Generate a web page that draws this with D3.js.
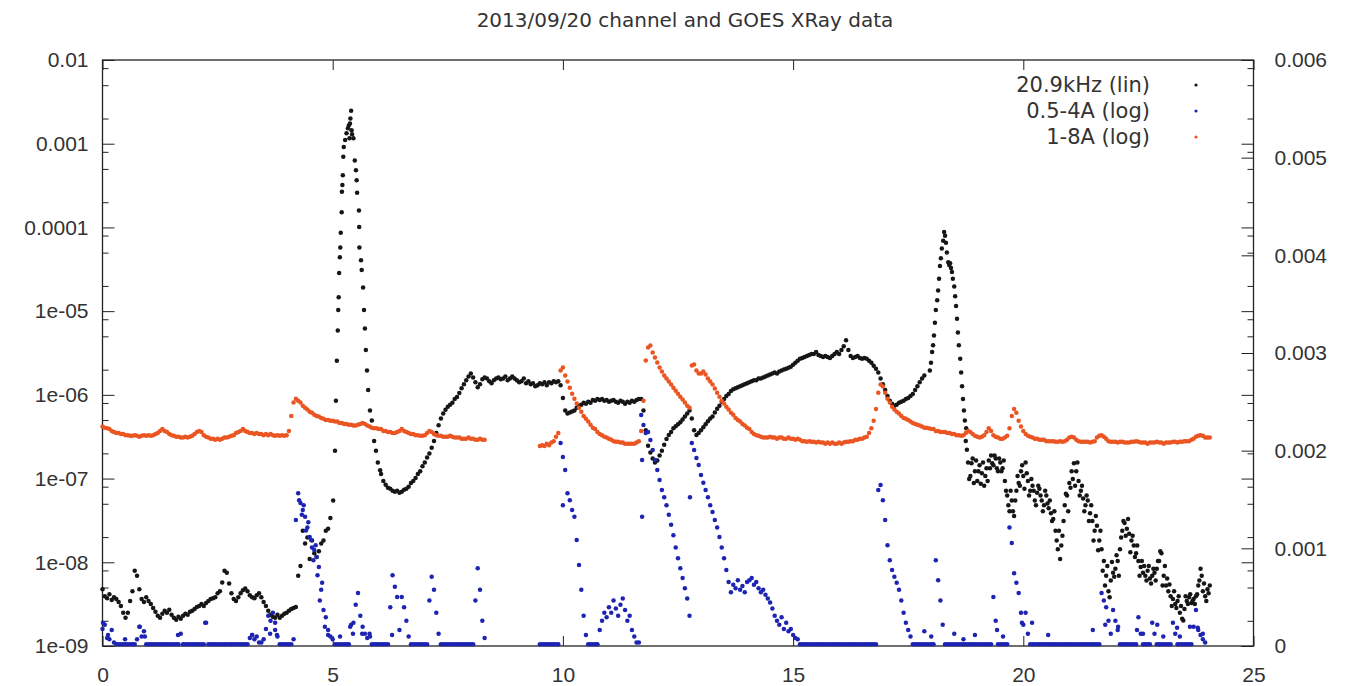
<!DOCTYPE html>
<html>
<head>
<meta charset="utf-8">
<title>2013/09/20 channel and GOES XRay data</title>
<script src="https://cdn.jsdelivr.net/npm/d3@7"></script>
<style>
  body { margin: 0; background: #fff; }
  svg { display: block; font-family: "DejaVu Sans", sans-serif; }
</style>
</head>
<body>
<div id="chart"></div>
<script>
var W = 1353, H = 686
var L = 102.5, R = 1253.5, T = 60, B = 646

// hours between samples in the regular runs below
var STEP = 0.05

// 20.9 kHz channel (right axis, linear), values in units of 1e-3
var chanA_start = 0
var chanA = [0.58,0.51,0.49,0.53,0.47,0.50,0.48,0.45,0.41,0.34,
  0.29,0.34,0.46,0.56,0.77,0.72,0.58,0.48,0.45,0.50,
  0.46,0.43,0.39,0.35,0.31,0.29,0.33,0.36,0.34,0.37,
  0.32,0.29,0.27,0.30,0.28,0.31,0.33,0.32,0.35,0.36,
  0.38,0.40,0.41,0.43,0.41,0.44,0.46,0.48,0.49,0.50,
  0.54,0.56,0.65,0.77,0.75,0.64,0.54,0.48,0.46,0.50,
  0.54,0.57,0.59,0.56,0.52,0.50,0.49,0.52,0.54,0.50,
  0.45,0.41,0.36,0.32,0.30,0.29,0.32,0.29,0.31,0.33,
  0.34,0.36,0.38,0.39,0.40,0.72,0.82,1.18,1.05,1.11,
  0.89,1.08,0.95,0.91,0.97,1.05,1.08,1.18,1.20,1.31]
// flare near 5h, [hour, value]
var chanFlare1 = [[5.01,1.49],[5.05,2.00],[5.07,2.51],[5.09,2.92],[5.11,3.23],[5.12,3.44],[5.13,3.57],
  [5.14,3.82],[5.155,3.98],[5.165,4.08],[5.175,4.23],[5.195,4.44],[5.20,4.65],[5.21,4.72],[5.22,4.82],
  [5.23,5.01],[5.24,5.11],[5.27,5.18],[5.30,5.25],[5.33,5.30],[5.35,5.33],[5.365,5.20],[5.375,5.35],
  [5.385,5.40],[5.40,5.48],[5.41,5.28],[5.42,5.24],[5.45,5.20],[5.48,4.97],[5.505,4.87],[5.52,4.77],
  [5.53,4.64],[5.57,4.46],[5.575,4.29],[5.58,4.08],[5.615,3.95],[5.63,3.85],[5.66,3.67],[5.68,3.44],
  [5.70,3.25],[5.72,3.03],[5.745,2.82],[5.77,2.62],[5.81,2.41],[5.85,2.31],[5.90,2.10],[5.94,2.00],
  [5.98,1.88],[6.03,1.80]]
var chanB_start = 6.05
var chanB = [1.76,1.69,1.65,1.62,1.61,1.59,1.58,1.59,1.57,1.58,
  1.60,1.61,1.63,1.67,1.69,1.72,1.76,1.79,1.84,1.88,
  1.93,1.97,2.03,2.10,2.18,2.26,2.33,2.38,2.42,2.45,
  2.47,2.49,2.53,2.55,2.59,2.64,2.68,2.72,2.76,2.79,
  2.75,2.70,2.65,2.68,2.73,2.75,2.74,2.71,2.69,2.72,
  2.74,2.75,2.73,2.74,2.76,2.72,2.74,2.76,2.74,2.72,
  2.70,2.71,2.74,2.69,2.71,2.68,2.69,2.66,2.67,2.69,
  2.68,2.70,2.67,2.70,2.69,2.71,2.70,2.71,2.67,2.54,
  2.41,2.38,2.39,2.40,2.41,2.44,2.46,2.47,2.49,2.48,
  2.50,2.49,2.52,2.51,2.53,2.52,2.53,2.51,2.52,2.50,
  2.51,2.52,2.50,2.49,2.51,2.50,2.48,2.50,2.49,2.51,
  2.50,2.52,2.53,2.53,2.41,2.21,2.05,1.98,1.92,1.88,
  1.90,1.95,2.00,2.06,2.12,2.16,2.19,2.23,2.25,2.27,
  2.29,2.32,2.35,2.38,2.41,2.33,2.21,2.16,2.18,2.21,
  2.24,2.27,2.30,2.33,2.35,2.39,2.43,2.46,2.50,2.53,
  2.56,2.58,2.61,2.63,2.64,2.65,2.66,2.67,2.68,2.69,
  2.70,2.71,2.72,2.72,2.74,2.74,2.75,2.76,2.77,2.78,
  2.79,2.80,2.79,2.81,2.82,2.83,2.84,2.85,2.86,2.88,
  2.90,2.92,2.94,2.95,2.96,2.97,2.98,2.99,2.99,3.01,
  2.98,2.97,2.96,2.97,2.96,2.95,2.97,2.99,3.01,2.99,
  3.03,3.07,3.13,3.03,2.97,2.95,2.96,2.97,2.95,2.94,
  2.95,2.94,2.92,2.90,2.87,2.84,2.80,2.74,2.68,2.62,
  2.56,2.51,2.48,2.46,2.47,2.49,2.50,2.51,2.53,2.54,
  2.56,2.58,2.62,2.66,2.70,2.74,2.77]
// flare near 18.3h, [hour, value]
var chanFlare2 = [[17.97,2.82],[17.995,2.90],[18.02,3.01],[18.04,3.08],[18.06,3.18],[18.08,3.31],
  [18.10,3.44],[18.13,3.54],[18.15,3.64],[18.17,3.76],[18.19,3.89],[18.21,3.97],[18.23,4.07],
  [18.26,4.15],[18.28,4.24],[18.30,4.20],[18.32,4.13],[18.34,4.03],[18.37,3.93],[18.39,3.90],
  [18.41,3.92],[18.43,3.87],[18.45,3.83],[18.47,3.76],[18.50,3.68],[18.52,3.58],[18.54,3.48],
  [18.56,3.35],[18.58,3.21],[18.60,3.08],[18.63,2.94],[18.65,2.80],[18.67,2.66],[18.69,2.53],
  [18.71,2.41],[18.73,2.31],[18.76,2.23]]
var chanC_start = 18.75
var chanC = [2.10,1.88,1.74,1.92,1.79,1.69,1.85,1.77,1.64,1.82,
  1.90,1.95,1.85,1.92,1.79,1.88,1.82,1.69,1.54,1.38,
  1.49,1.33,1.59,1.67,1.79,1.74,1.88,1.69,1.59,1.64,
  1.49,1.57,1.61,1.49,1.44,1.54,1.41,1.36,1.30,1.18,
  0.99,0.89,1.13,1.44,1.54,1.67,1.79,1.87,1.79,1.69,
  1.59,1.51,1.44,1.49,1.36,1.28,1.18,1.23,1.08,0.99,
  0.87,0.72,0.56,0.67,0.75,0.79,0.87,0.99,1.18,1.26,
  1.20,1.15,1.08,1.03,0.95,0.87,0.81,0.75,0.72,0.77,
  0.69,0.72,0.75,0.79,0.87,0.95,0.72,0.62,0.56,0.51,
  0.48,0.43,0.46,0.34,0.28,0.38,0.46,0.50,0.44,0.48,
  0.51,0.62,0.79,0.56,0.51,0.58,0.62]
// other edge of the scattered cloud after 18.75h
var chanC2_start = 18.775
var chanC2 = [2.01,1.71,1.87,1.67,1.90,1.79,1.66,1.88,1.74,1.69,
  1.82,1.87,1.95,1.82,1.92,1.79,1.90,1.59,1.44,1.59,
  1.38,1.49,1.74,1.64,1.85,1.61,1.77,1.54,1.71,1.59,
  1.44,1.64,1.54,1.38,1.59,1.46,1.49,1.28,1.38,1.08,
  1.18,1.03,1.28,1.56,1.38,1.62,1.71,1.64,1.88,1.54,
  1.64,1.38,1.54,1.28,1.44,1.08,1.33,0.98,1.18,0.77,
  0.62,0.82,0.50,0.86,0.71,0.93,0.72,1.11,1.28,1.13,
  1.30,0.96,1.13,0.91,1.03,0.72,0.87,0.82,0.67,0.82,
  0.64,0.79,0.67,0.87,0.97,0.62,0.82,0.69,0.63,0.41,
  0.56,0.39,0.51,0.41,0.26,0.51,0.43,0.53,0.46,0.43,
  0.53,0.67,0.72,0.64,0.46,0.54]

// GOES 1-8A (left axis, log), units of 1e-7
var longA_start = 0
var longA = [4.2,4.05,4.0,3.9,3.7,3.6,3.5,3.5,3.4,3.4,
  3.3,3.3,3.25,3.25,3.3,3.25,3.15,3.25,3.3,3.25,
  3.3,3.25,3.3,3.4,3.5,3.7,3.9,3.7,3.6,3.4,
  3.3,3.25,3.15,3.15,3.1,3.1,3.15,3.1,3.15,3.25,
  3.4,3.6,3.7,3.6,3.3,3.15,3.1,3.0,3.0,2.9,
  3.0,2.9,3.0,3.1,3.1,3.15,3.25,3.3,3.5,3.6,
  3.7,3.9,3.7,3.6,3.5,3.5,3.4,3.5,3.4,3.4,
  3.3,3.4,3.3,3.4,3.3,3.25,3.3,3.25,3.3,3.25,
  3.3,3.7,5.6,8.1,9.0,8.5,8.1,7.4,7.0,6.7,
  6.3,6.1,5.8,5.6,5.5,5.3,5.2,5.0,5.0,4.9,
  4.9,4.8,4.8,4.6,4.6,4.5,4.5,4.4,4.4,4.3,
  4.3,4.4,4.5,4.6,4.5,4.3,4.2,4.05,4.0,4.0,
  3.9,3.9,3.7,3.7,3.6,3.6,3.5,3.5,3.6,3.7,
  3.9,3.7,3.6,3.5,3.4,3.4,3.3,3.3,3.25,3.25,
  3.3,3.5,3.7,3.6,3.4,3.3,3.25,3.25,3.15,3.15,
  3.15,3.25,3.15,3.1,3.1,3.1,3.0,3.0,3.0,3.1,
  3.0,3.0,2.9,2.9,3.0,2.9,2.9]
var longB_start = 9.5
var longB = [2.45,2.5,2.45,2.6,2.5,2.7,2.8,3.15,3.5,19.5,
  21.2,17.0,14.4,12.2,10.3,9.0,7.9,7.0,6.3,5.6,
  5.2,4.8,4.4,4.05,3.9,3.6,3.4,3.3,3.15,3.1,
  3.0,2.9,2.8,2.75,2.75,2.7,2.7,2.6,2.6,2.6,
  2.6,2.6,2.7,2.8,3.7,8.5,25.7,36.8,38.8,32.1,
  28.0,24.3,21.2,19.0,17.0,15.7,14.4,13.3,12.2,11.2,
  10.3,9.5,8.8,8.1,7.4,7.0,22.4,23.0,19.5,18.0,
  18.0,19.0,17.5,15.7,14.4,13.3,11.9,10.6,9.5,8.5,
  7.9,7.2,6.7,6.1,5.8,5.3,5.0,4.8,4.5,4.3,
  4.05,3.9,3.6,3.4,3.3,3.25,3.15,3.1,3.1,3.1,
  3.15,3.1,3.1,3.0,3.1,3.1,3.0,3.0,3.1,3.0,
  3.0,2.9,3.0,2.9,2.8,2.8,2.75,2.8,2.75,2.75,
  2.7,2.75,2.7,2.7,2.6,2.7,2.6,2.7,2.6,2.6,
  2.7,2.6,2.7,2.75,2.75,2.8,2.8,2.9,2.9,3.0,
  3.0,3.1,3.15,3.5,4.0,4.9,6.8,10.6,13.3,12.6,
  10.6,9.0,8.1,7.2,6.7,6.3,6.0,5.6,5.3,5.2,
  5.0,4.8,4.6,4.5,4.4,4.3,4.2,4.05,4.05,4.0,
  3.9,3.9,3.7,3.7,3.6,3.6,3.6,3.5,3.5,3.4,
  3.4,3.3,3.3,3.25,3.3,3.5,3.7,3.6,3.4,3.25,
  3.15,3.1,3.15,3.3,3.6,4.0,3.7,3.3,3.15,3.1,
  3.0,3.0,3.1,3.25,4.0,5.6,6.8,6.1,4.9,4.2,
  3.7,3.4,3.25,3.15,3.1,3.0,3.0,2.9,2.9,2.9,
  2.8,2.8,2.8,2.8,2.75,2.75,2.8,2.75,2.8,2.9,
  3.1,3.15,3.1,2.9,2.8,2.75,2.75,2.75,2.75,2.7,
  2.75,2.8,3.1,3.25,3.3,3.15,3.0,2.8,2.75,2.75,
  2.75,2.7,2.75,2.75,2.7,2.7,2.7,2.75,2.75,2.8,
  2.75,2.7,2.7,2.7,2.6,2.7,2.7,2.7,2.75,2.7,
  2.7,2.6,2.7,2.7,2.7,2.75,2.75,2.7,2.75,2.75,
  2.8,2.8,2.8,2.9,3.0,3.15,3.25,3.3,3.25,3.1,
  3.1,3.1]

// GOES 0.5-4A (left axis, log), units of 1e-9
var shortA_start = 0
var shortA = [1.6,1.8,1.25,1.2,1.55,1.1,
  1.05,1.05,1.05,1.05,1.05,1.05,1.05,1.05,1.05,
  1.2,1.7,1.3,1.5,
  1.05,1.05,1.05,1.05,1.05,1.05,1.05,1.05,1.05,1.05,1.05,1.05,1.05,1.05,1.05,
  1.4,
  1.05,1.05,1.05,1.05,1.05,1.05,1.05,1.05,1.05,1.05,
  1.9,
  1.05,1.05,1.05,1.05,1.05,1.05,1.05,1.05,1.05,1.05,1.05,1.05,1.05,1.05,1.05,1.05,1.05,1.05,
  1.25,1.35,1.2,1.3,1.1,1.1,1.2,1.6,2.3,2.0,2.5,1.55,1.3,
  1.05,1.05,1.05,1.05,1.05,1.05,
  1.2,32,67,51,42,35,26,20,15,14,11.6,8.8,4.7,2.7,2.2,1.55,1.3,1.2,
  1.05,1.05,1.05,1.05,1.05,1.05,1.05,
  1.8,1.9,3.1,4.3,2.3,1.7,1.4,1.25,1.4,
  1.05,1.05,1.05,1.05,1.05,1.05,1.05,1.05,
  2.9,7.0,5.1,3.85,1.55,3.85,2.9,2.0,1.3,
  1.05,1.05,1.05,1.05,1.05,1.05,1.05,1.05,
  3.5,6.7,4.7,2.5,1.4,
  1.05,1.05,1.05,1.05,1.05,1.05,1.05,1.05,1.05,1.05,1.05,1.05,1.05,1.05,1.05,
  3.5,8.5,4.7,2.0,1.25]
var shortB_start = 9.5
var shortB = [1.05,1.05,1.05,1.05,1.05,1.05,1.05,1.05,1.05,
  266,181,127,67,55,42,35,18.5,9.3,4.7,2.3,1.35,
  1.05,1.05,1.05,1.05,1.05,
  1.55,2.0,2.5,2.2,2.9,2.5,3.5,2.8,2.3,3.1,3.7,2.7,2.0,2.3,1.55,1.3,1.1,1.1,
  575,437,351,360,289,219,167,127,96,73,60,48,37,28,21,15,11.2,8.5,6.5,4.9,3.7,2.3,
  266,219,176,145,110,89,73,60,48,40,
  32,26,20,15,11.2,8.1,5.8,4.4,5.4,4.9,
  6.1,4.7,5.2,4.4,5.8,6.1,6.5,5.4,5.8,4.9,
  4.4,4.7,4.1,3.7,3.3,2.8,2.3,2.0,1.8,2.2,
  1.6,1.9,1.5,1.6,1.35,1.25,1.2,
  1.05,1.05,1.05,1.05,1.05,1.05,1.05,1.05,1.05,1.05,
  1.05,1.05,1.05,1.05,1.05,1.05,1.05,1.05,1.05,1.05,
  1.05,1.05,1.05,1.05,1.05,1.05,1.05,1.05,1.05,1.05,
  1.05,1.05,1.05,1.05,
  73,84,55,32,16,10.6,8.1,6.7,5.7,4.7,3.5,2.5,1.9,1.55,1.3,
  1.05,1.05,1.05,1.05,1.05,1.05,1.05,1.05,1.05,1.05,
  10.6,6.1,3.5,1.8,
  1.05,1.05,1.05,1.05,1.05,1.05,1.05,1.05,1.05,1.05,
  1.05,1.05,1.05,1.05,1.05,1.05,1.05,1.05,1.05,1.05,1.05,
  3.85,2.0,
  1.05,1.05,1.05,1.05,1.05,
  26,17,7.4,5.7,4.3,2.5,1.8,2.5,1.4,
  1.05,1.05,1.05,1.05,1.05,1.05,1.05,1.05,1.05,1.05,
  1.05,1.05,1.05,1.05,1.05,1.05,1.05,1.05,1.05,1.05,
  1.05,1.05,1.05,1.05,1.05,1.05,1.05,1.05,1.05,1.05,1.05,
  4.3,3.5,2.9,2.0,1.4,2.7,2.0,1.55,
  1.05,1.05,1.05,1.05,1.05,1.05,1.05,1.05,
  2.2,1.4,
  1.05,1.05,1.05,1.05,
  1.9,1.4,
  1.05,1.05,1.05,1.05,1.05,1.05,1.05,
  1.9,1.4,
  1.05,1.05,1.05,1.05,1.05,1.05,1.05,
  1.7,2.7,1.55,1.35,1.2,1.1]
// scattered single readings, [hour, value]
var shortExtra = [[0.01,1.9],[0.12,1.35],[0.49,1.2],[0.81,1.7],[0.92,1.3],[1.64,1.35],[2.23,1.9],
  [3.25,1.35],[3.64,1.4],[3.75,1.9],[3.79,1.35],[4.27,55],[4.33,37],[4.37,48],[4.42,24],[4.47,30],
  [4.53,18.5],[4.58,10.6],[4.63,16],[4.67,7.0],[4.72,3.5],[4.77,5.7],[4.83,1.7],[4.90,1.35],
  [5.16,1.3],[5.38,1.7],[5.44,1.4],[5.64,1.4],[5.81,1.3],[6.29,1.35],[10.0,48],[11.72,167],
  [11.72,35],[12.76,60],[17.85,1.5],[18.0,1.3],[18.5,1.4],[18.7,1.2],[18.95,1.35],[19.43,1.55],
  [19.56,1.3],[19.97,1.9],[20.19,1.9],[20.54,1.35],[21.51,1.55],[21.78,1.8],[22.06,1.7],
  [22.47,1.55],[22.60,1.4],[22.91,1.8],[23.04,1.3],[23.34,1.65],[23.40,1.3],[23.62,1.7],
  [23.79,1.65],[23.90,1.4]]

var xTicks = [0, 5, 10, 15, 20, 25]
var yLeftTicks = [1e-9, 1e-8, 1e-7, 1e-6, 1e-5, 1e-4, 1e-3, 1e-2]
var yLeftLabels = ['1e-09', '1e-08', '1e-07', '1e-06', '1e-05', '0.0001', '0.001', '0.01']
var yRightTicks = [0, 0.001, 0.002, 0.003, 0.004, 0.005, 0.006]
var yRightLabels = ['0', '0.001', '0.002', '0.003', '0.004', '0.005', '0.006']
var legendLabels = ['20.9kHz (lin)', '0.5-4A (log)', '1-8A (log)']
var colors = ['#161616', '#1e24b2', '#ea5522']

var x = d3.scaleLinear().domain([0, 25]).range([L, R])
var yL = d3.scaleLog().domain([1e-9, 1e-2]).range([B, T])
var yR = d3.scaleLinear().domain([0, 0.006]).range([B, T])

function run(start, vals, unit) {
  return vals.map((v, i) => ({ h: start + i * STEP, v: v * unit }))
}
function pairs(list, unit) {
  return list.map(d => ({ h: d[0], v: d[1] * unit }))
}

var chanPts = [].concat(run(chanA_start, chanA, 1e-3), pairs(chanFlare1, 1e-3),
  run(chanB_start, chanB, 1e-3), pairs(chanFlare2, 1e-3),
  run(chanC_start, chanC, 1e-3), run(chanC2_start, chanC2, 1e-3))
var shortPts = [].concat(run(shortA_start, shortA, 1e-9), run(shortB_start, shortB, 1e-9),
  pairs(shortExtra, 1e-9))
var longPts = [].concat(run(longA_start, longA, 1e-7), run(longB_start, longB, 1e-7))

var svg = d3.select('#chart').append('svg')
  .attr('width', W)
  .attr('height', H)
svg.append('rect').attr('width', W).attr('height', H).attr('fill', '#fff')

// title
svg.append('text')
  .attr('x', 685)
  .attr('y', 27)
  .attr('text-anchor', 'middle')
  .style('font-size', '20px')
  .style('fill', '#333')
  .text('2013/09/20 channel and GOES XRay data')

// minor log ticks at 2, 5 and 8 of each decade
var minor = []
yLeftTicks.slice(0, -1).forEach(d => [2, 5, 8].forEach(m => minor.push(d * m)))

function styleAxis(g) {
  g.select('.domain').remove()
  g.selectAll('line').attr('stroke', '#222')
  g.selectAll('text').style('font-size', '21px').style('fill', '#333')
}

svg.append('g').attr('transform', `translate(0,${B})`)
  .call(d3.axisBottom(x).tickValues(xTicks).tickSize(-10).tickPadding(21).tickFormat(d3.format('d')))
  .call(styleAxis)
svg.append('g').attr('transform', `translate(0,${T})`)
  .call(d3.axisTop(x).tickValues(xTicks).tickSize(-10).tickFormat(''))
  .call(styleAxis)

svg.append('g').attr('transform', `translate(${L},0)`)
  .call(d3.axisLeft(yL).tickValues(yLeftTicks).tickSize(-12).tickPadding(14).tickFormat((d, i) => yLeftLabels[i]))
  .call(styleAxis)
svg.append('g').attr('transform', `translate(${L},0)`)
  .call(d3.axisLeft(yL).tickValues(minor).tickSize(-6).tickFormat(''))
  .call(styleAxis)

svg.append('g').attr('transform', `translate(${R},0)`)
  .call(d3.axisRight(yL).tickValues(yLeftTicks).tickSize(-12).tickFormat(''))
  .call(styleAxis)
svg.append('g').attr('transform', `translate(${R},0)`)
  .call(d3.axisRight(yL).tickValues(minor).tickSize(-6).tickFormat(''))
  .call(styleAxis)
svg.append('g').attr('transform', `translate(${R},0)`)
  .call(d3.axisRight(yR).tickValues(yRightTicks).tickSize(-12).tickPadding(21).tickFormat((d, i) => yRightLabels[i]))
  .call(styleAxis)

svg.append('rect')
  .attr('x', L).attr('y', T)
  .attr('width', R - L).attr('height', B - T)
  .attr('fill', 'none')
  .attr('stroke', '#222')
  .attr('stroke-width', 1.3)

function dots(pts, yScale, color) {
  svg.append('g').selectAll('circle')
    .data(pts.filter(d => d.h >= 0 && d.h <= 25))
    .enter()
    .append('circle')
    .attr('cx', d => x(d.h))
    .attr('cy', d => yScale(d.v))
    .attr('r', 2.25)
    .attr('fill', color)
}
dots(chanPts, yR, colors[0])
dots(shortPts, yL, colors[1])
dots(longPts, yL, colors[2])

// key
var key = svg.append('g')
legendLabels.forEach((t, i) => {
  key.append('text')
    .attr('x', 1150)
    .attr('y', 92 + i * 26)
    .attr('text-anchor', 'end')
    .style('font-size', '21px')
    .style('fill', '#333')
    .text(t)
  key.append('circle')
    .attr('cx', 1196)
    .attr('cy', 85 + i * 26)
    .attr('r', 1.6)
    .attr('fill', colors[i])
})
</script>
</body>
</html>
